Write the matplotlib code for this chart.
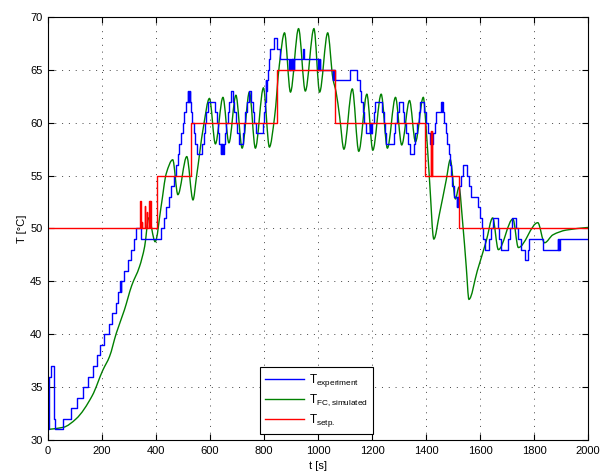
import numpy as np
import matplotlib
matplotlib.use('Agg')
import matplotlib.pyplot as plt
from matplotlib.path import Path
from matplotlib.patches import PathPatch
from matplotlib.lines import Line2D

plt.rcParams['font.family'] = ['Liberation Sans', 'DejaVu Sans']
plt.rcParams['mathtext.default'] = 'regular'
plt.rcParams['font.size'] = 8

# measured temperature (step changes: time [s], T [degC])
experiment = [
    (0, 31), (3, 36), (12, 37), (22, 32), (27, 31), (57, 32), (86, 33), (108, 34),
    (129, 35), (148, 36), (166, 37), (181, 38), (194, 39), (209, 40), (225, 41),
    (238, 42), (250, 43), (261, 44), (268, 45), (269, 44), (270, 45), (271, 44),
    (272, 45), (283, 46), (296, 47), (306, 48), (317, 49), (327, 50), (345, 49),
    (419, 50), (428, 51), (438, 52), (448, 53), (456, 54), (465, 55), (475, 56),
    (481, 57), (487, 58), (493, 59), (499, 60), (505, 61), (511, 62), (517, 63),
    (519, 62), (521, 63), (523, 62), (525, 63), (527, 62), (530, 61), (535, 60),
    (540, 59), (546, 58), (552, 57), (571, 58), (576, 59), (581, 60), (586, 61),
    (591, 62), (620, 61), (625, 60), (630, 59), (635, 58), (640, 57), (642, 58),
    (644, 57), (646, 58), (648, 57), (650, 58), (655, 59), (660, 60), (666, 61),
    (672, 62), (676, 63), (686, 62), (690, 61), (695, 60), (700, 59), (706, 58),
    (721, 59), (726, 60), (731, 61), (737, 62), (743, 63), (753, 62), (758, 61),
    (763, 60), (770, 59), (796, 60), (800, 61), (803, 62), (806, 63), (808, 64),
    (809, 63), (810, 64), (814, 65), (818, 66), (824, 67), (838, 68), (849, 67),
    (861, 66), (894, 65), (896, 66), (898, 65), (900, 66), (902, 65), (904, 66),
    (906, 65), (908, 66), (910, 65), (912, 66), (944, 67), (948, 66), (1000, 65),
    (1002, 66), (1004, 65), (1006, 66), (1007, 65), (1055, 64), (1057, 65),
    (1059, 64), (1061, 65), (1063, 64), (1117, 65), (1144, 64), (1154, 63),
    (1160, 62), (1166, 61), (1172, 60), (1176, 59), (1192, 60), (1194, 59),
    (1196, 60), (1198, 59), (1201, 60), (1206, 61), (1212, 62), (1238, 61),
    (1243, 60), (1248, 59), (1253, 58), (1280, 59), (1285, 60), (1292, 61),
    (1299, 62), (1314, 61), (1320, 60), (1327, 59), (1333, 58), (1341, 57),
    (1357, 58), (1361, 59), (1366, 60), (1373, 61), (1379, 62), (1394, 61),
    (1400, 60), (1406, 59), (1413, 58), (1425, 59), (1432, 60), (1438, 61),
    (1456, 62), (1458, 61), (1460, 62), (1462, 61), (1468, 60), (1474, 59),
    (1479, 58), (1484, 57), (1489, 56), (1493, 55), (1498, 54), (1503, 53),
    (1514, 52), (1516, 53), (1518, 52), (1520, 53), (1524, 54), (1530, 55),
    (1536, 56), (1551, 55), (1558, 54), (1565, 53), (1592, 52), (1600, 51),
    (1606, 50), (1612, 49), (1620, 48), (1635, 49), (1641, 50), (1647, 51),
    (1666, 50), (1672, 49), (1678, 48), (1703, 49), (1710, 50), (1719, 51),
    (1734, 50), (1740, 49), (1753, 48), (1765, 47), (1777, 48), (1783, 49),
    (1833, 48), (1888, 49), (1890, 48), (1892, 49), (1894, 48), (1896, 49),
    (2000, 49),
]

# simulated fuzzy-controller response (time [s], T [degC])
sim_t = [0, 57, 104, 164, 203, 228, 253, 283, 310, 339, 358, 373, 397, 419, 438,
         462, 481, 514, 537, 550, 575, 598, 620, 648, 670, 696, 719, 746, 768,
         798, 820, 839, 857, 876, 898, 928, 953, 985, 1006, 1036, 1055, 1067,
         1080, 1096, 1127, 1151, 1181, 1203, 1234, 1257, 1287, 1310, 1339, 1361,
         1390, 1401, 1413, 1429, 1450, 1475, 1490, 1509, 1522, 1536, 1549, 1559,
         1590, 1623, 1647, 1668, 1722, 1742, 1814, 1839, 1870, 1919, 2000]
sim_T = [31.0, 31.2, 32.0, 34.2, 36.6, 37.9, 40.1, 42.3, 44.6, 46.4, 48.3, 51.0,
         48.75, 52.1, 55.2, 56.5, 53.2, 56.8, 52.7, 54.9, 59.5, 62.3, 58.0, 62.4,
         58.1, 62.6, 57.6, 62.9, 57.6, 63.3, 57.7, 60.5, 65.5, 68.5, 62.9, 68.9,
         63.0, 68.9, 62.9, 68.5, 64.2, 62.9, 60.6, 57.5, 63.2, 57.3, 62.7, 57.4,
         62.7, 57.6, 62.4, 57.9, 62.1, 58.2, 62.4, 59.3, 54.6, 49.0, 51.4, 54.6,
         56.5, 52.8, 53.9, 50.5, 46.4, 43.3, 46.0, 48.8, 51.0, 48.0, 50.9, 48.2,
         50.55, 48.65, 49.4, 49.85, 50.1]

# set point (step changes: time [s], T [degC])
setpoint = [
    (0, 50), (341, 52.6), (343, 50), (347, 50.6), (348, 50), (359, 52.1),
    (361, 50), (365, 51.6), (366, 50), (375, 52.6), (377, 50), (379, 52.6),
    (381, 50), (402, 55), (528, 60), (848, 65), (1063, 60), (1395, 55),
    (1419, 59.2), (1420, 55), (1421, 59.2), (1422, 55), (1523, 50), (2000, 50),
]

x_ticks = np.arange(0, 2001, 200)
y_ticks = np.arange(30, 71, 5)


def smooth_path(t, y):
    # monotone cubic (Fritsch-Carlson) segments written as Bezier curves
    t = np.asarray(t, float)
    y = np.asarray(y, float)
    h = np.diff(t)
    d = np.diff(y) / h
    m = np.zeros_like(y)
    m[0], m[-1] = d[0], d[-1]
    for k in range(1, len(y) - 1):
        if d[k - 1] * d[k] > 0:
            w1 = 2 * h[k] + h[k - 1]
            w2 = h[k] + 2 * h[k - 1]
            m[k] = (w1 + w2) / (w1 / d[k - 1] + w2 / d[k])
    verts = [(t[0], y[0])]
    codes = [Path.MOVETO]
    for k in range(len(h)):
        verts += [(t[k] + h[k] / 3, y[k] + m[k] * h[k] / 3),
                  (t[k + 1] - h[k] / 3, y[k + 1] - m[k + 1] * h[k] / 3),
                  (t[k + 1], y[k + 1])]
        codes += [Path.CURVE4] * 3
    return Path(verts, codes)


exp_t, exp_T = np.array(experiment, float).T
set_t, set_T = np.array(setpoint, float).T

fig = plt.figure(figsize=(6.08, 4.73), dpi=100)
ax = fig.add_axes([48 / 608, 33 / 473, 540 / 608, 423 / 473])

blue, green, red = '#0000ff', '#008000', '#ff0000'

ax.plot(exp_t, exp_T, color=blue, lw=1.0, drawstyle='steps-post')
ax.add_patch(PathPatch(smooth_path(sim_t, sim_T), fill=False,
                       edgecolor=green, lw=1.0))
ax.plot(set_t, set_T, color=red, lw=1.0, drawstyle='steps-post')

ax.set_xlim(0, 2000)
ax.set_ylim(30, 70)
ax.set_xticks(x_ticks)
ax.set_yticks(y_ticks)
ax.grid(True, linestyle=(0, (1, 6)), color='#444444', linewidth=0.7)
ax.tick_params(direction='in', top=True, right=True, length=4, width=0.8,
               labelsize=8, pad=4)
for s in ax.spines.values():
    s.set_linewidth(0.8)

ax.set_xlabel('t [s]', fontsize=8, labelpad=4)
ax.set_ylabel('T [°C]', fontsize=8, labelpad=2)

handles = [Line2D([], [], color=blue, lw=1.0),
           Line2D([], [], color=green, lw=1.0),
           Line2D([], [], color=red, lw=1.0)]
labels = ['T$_{experiment}$', 'T$_{FC,simulated}$', 'T$_{setp.}$']
leg = ax.legend(handles, labels, loc='lower left', bbox_to_anchor=(0.392, 0.014),
                borderaxespad=0, fancybox=False, edgecolor='k', framealpha=1,
                fontsize=8.5, handlelength=3.3, borderpad=0.45, labelspacing=0.3,
                handletextpad=0.4)
leg.get_frame().set_linewidth(0.8)

fig.savefig('out.png', dpi=100)
